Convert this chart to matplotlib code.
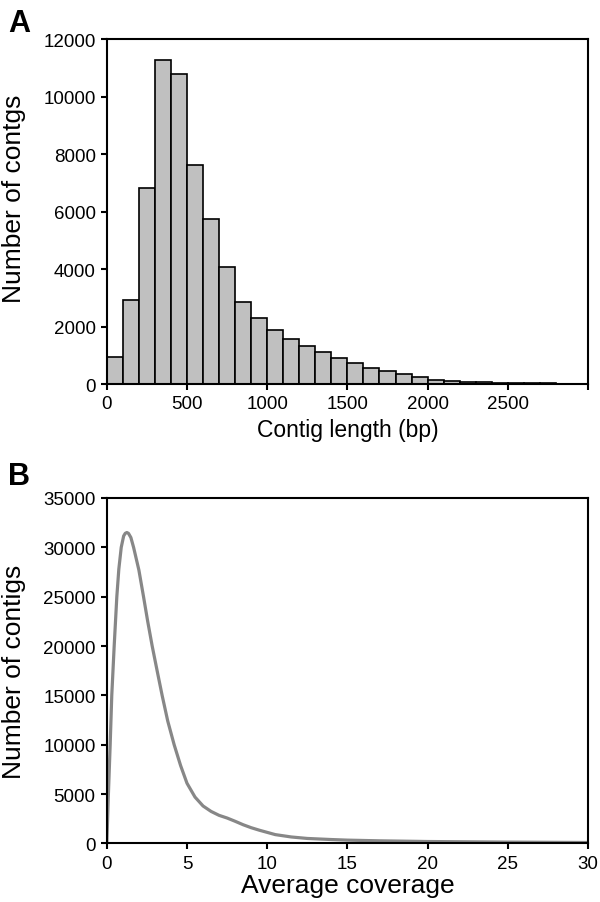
import matplotlib
matplotlib.use('Agg')
import matplotlib.pyplot as plt

plt.rcParams['font.family'] = ['Liberation Sans', 'DejaVu Sans']

# panel A: contig length histogram (bins of 100 bp)
bin_starts = list(range(0, 2800, 100))
bin_counts = [950, 2920, 6820, 11270, 10770, 7630, 5730, 4080, 2860, 2280,
              1890, 1570, 1310, 1100, 900, 740, 570, 440, 350, 240,
              150, 105, 80, 60, 45, 35, 25, 20]
len_ticks = [0, 500, 1000, 1500, 2000, 2500, 3000]
len_labels = ['0', '500', '1000', '1500', '2000', '2500', '']

# panel B: average coverage curve
cov_x = [0, 0.1, 0.21, 0.31, 0.46, 0.625, 0.75, 0.9, 1.05, 1.15, 1.25, 1.35,
         1.5, 1.67, 2.0, 2.29, 2.55, 2.83, 3.15, 3.45, 3.8, 4.2, 4.6, 5.0,
         5.5, 6.0, 6.5, 7.0, 7.5, 8.0, 8.5, 9.0, 9.5, 10.5, 11.5, 12.5, 14,
         15, 17, 20, 25, 30]
cov_y = [0, 5000, 10000, 15000, 20000, 25000, 27800, 30000, 31150, 31420,
         31500, 31420, 31000, 30000, 27700, 25000, 22500, 20000, 17400,
         15000, 12400, 10000, 7900, 6100, 4700, 3800, 3250, 2850, 2580,
         2250, 1900, 1600, 1350, 900, 660, 510, 400, 340, 270, 200, 140, 100]

fig = plt.figure(figsize=(6, 9.03), dpi=100)
axA = fig.add_axes([0.178, 0.5736, 0.802, 0.3821])
axB = fig.add_axes([0.178, 0.0648, 0.802, 0.3826])

axA.bar(bin_starts, bin_counts, width=100, align='edge',
        color='#c0c0c0', edgecolor='black', linewidth=1.2)
axA.set_xlim(0, 3000)
axA.set_ylim(0, 12000)
axA.set_xticks(len_ticks)
axA.set_xticklabels(len_labels)
axA.set_yticks(range(0, 12001, 2000))
axA.set_xlabel('Contig length (bp)', fontsize=16.5, labelpad=4)
axA.set_ylabel('Number of contgs', fontsize=19, labelpad=11)
axA.yaxis.set_label_coords(-0.168, 0.54)

axB.plot(cov_x, cov_y, color='#878787', linewidth=2.3, solid_capstyle='round')
axB.set_xlim(0, 30)
axB.set_ylim(0, 35000)
axB.set_xticks(range(0, 31, 5))
axB.set_yticks(range(0, 35001, 5000))
axB.set_xlabel('Average coverage', fontsize=19, labelpad=1)
axB.set_ylabel('Number of contigs', fontsize=19)
axB.yaxis.set_label_coords(-0.168, 0.5)

for ax in (axA, axB):
    for s in ax.spines.values():
        s.set_linewidth(1.5)
    ax.tick_params(direction='out', length=4, width=1.5, labelsize=13.5, pad=4)

fig.text(0.013, 0.99, 'A', fontsize=22, fontweight='bold', va='top')
fig.text(0.013, 0.488, 'B', fontsize=22, fontweight='bold', va='top')

fig.savefig('out.png', dpi=100)
